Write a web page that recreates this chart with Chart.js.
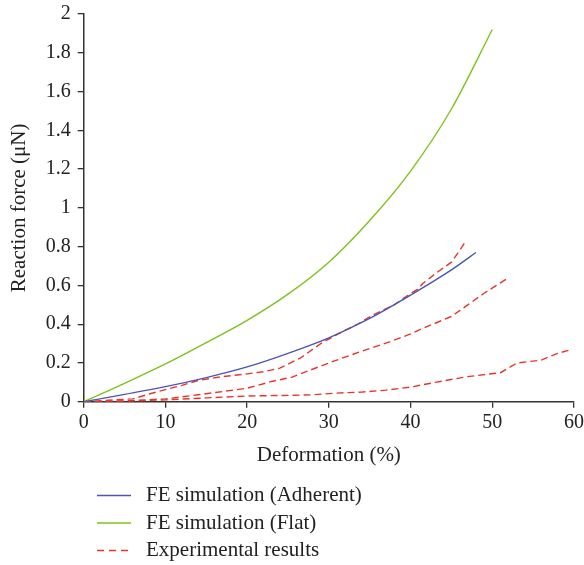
<!DOCTYPE html>
<html>
<head>
<meta charset="utf-8">
<script src="https://cdn.jsdelivr.net/npm/chart.js@4.4.1/dist/chart.umd.min.js"></script>
<style>
  html, body { margin: 0; padding: 0; background: #fff; }
  #wrap { width: 584px; height: 565px; }
</style>
</head>
<body>
<div id="wrap"><canvas id="chart"></canvas></div>
<script>
// FE simulation, adherent
const adherentX = [0, 5, 10, 15, 20, 25, 30, 35, 40, 45, 48];
const adherentY = [0, 0.038, 0.078, 0.125, 0.18, 0.25, 0.33, 0.43, 0.55, 0.68, 0.77];

// FE simulation, flat
const flatX = [0, 5, 10, 15, 20, 25, 30, 35, 40, 45, 50];
const flatY = [0, 0.095, 0.195, 0.305, 0.42, 0.555, 0.72, 0.935, 1.19, 1.51, 1.92];

// experimental curves
const exp1X = [0, 3, 6, 8, 10, 12, 14, 17, 20, 22, 24, 26.5, 29, 30.5, 32, 33.5, 35.5, 38, 39, 41, 41.5, 43, 45, 45.5, 46, 46.7];
const exp1Y = [0, 0.008, 0.015, 0.04, 0.063, 0.085, 0.11, 0.13, 0.144, 0.155, 0.174, 0.225, 0.3, 0.335, 0.37, 0.4, 0.45, 0.5, 0.53, 0.585, 0.61, 0.66, 0.72, 0.75, 0.78, 0.825];
const exp2X = [0, 5, 10, 14, 20, 23, 25.5, 27.5, 30.5, 34.5, 37.5, 40, 41, 43, 45, 47, 49, 50.5, 52];
const exp2Y = [0, 0.005, 0.015, 0.036, 0.07, 0.105, 0.127, 0.16, 0.208, 0.268, 0.31, 0.35, 0.37, 0.405, 0.44, 0.5, 0.56, 0.6, 0.64];
const exp3X = [0, 5, 10, 15, 20, 25, 28, 31, 34, 37, 40, 43, 47, 51, 53, 56, 58, 59.6];
const exp3Y = [0, 0.003, 0.01, 0.02, 0.03, 0.033, 0.036, 0.045, 0.05, 0.06, 0.076, 0.1, 0.13, 0.15, 0.2, 0.215, 0.25, 0.268];

const legendLabels = ['FE simulation (Adherent)', 'FE simulation (Flat)', 'Experimental results'];

const blue = '#4b55b5';
const green = '#7ec31c';
const red = '#e8352b';
const axisColor = '#333333';
const fontFamily = '"Liberation Serif", "Times New Roman", serif';

function pts(xs, ys) {
    return xs.map((x, i) => ({ x: x, y: ys[i] }));
}

// legend drawn by hand so it stacks on the left like the original
const stackedLegend = {
    id: 'stackedLegend',
    afterDraw(chart) {
        const ctx = chart.ctx;
        const items = [
            { color: blue, dash: [] },
            { color: green, dash: [] },
            { color: red, dash: [7, 5] }
        ];
        ctx.save();
        ctx.font = '21px ' + fontFamily;
        ctx.textBaseline = 'middle';
        items.forEach((it, i) => {
            const y = 495.5 + i * 27.5;
            ctx.beginPath();
            ctx.setLineDash(it.dash);
            ctx.strokeStyle = it.color;
            ctx.lineWidth = 1.3;
            ctx.moveTo(97, y);
            ctx.lineTo(131, y);
            ctx.stroke();
            ctx.setLineDash([]);
            ctx.fillStyle = '#222';
            ctx.fillText(legendLabels[i], 146, y);
        });
        ctx.restore();
    }
};

const solid = { pointRadius: 0, borderWidth: 1.4, fill: false, cubicInterpolationMode: 'monotone' };
const dashed = { pointRadius: 0, borderWidth: 1.4, fill: false, borderDash: [7, 4], tension: 0 };

new Chart('chart', {
    type: 'line',
    data: {
        datasets: [
            Object.assign({ label: legendLabels[0], data: pts(adherentX, adherentY), borderColor: blue }, solid),
            Object.assign({ label: legendLabels[1], data: pts(flatX, flatY), borderColor: green }, solid),
            Object.assign({ label: legendLabels[2], data: pts(exp1X, exp1Y), borderColor: red }, dashed),
            Object.assign({ label: legendLabels[2], data: pts(exp2X, exp2Y), borderColor: red }, dashed),
            Object.assign({ label: legendLabels[2], data: pts(exp3X, exp3Y), borderColor: red }, dashed)
        ]
    },
    options: {
        responsive: true,
        maintainAspectRatio: false,
        animation: false,
        layout: { padding: { top: 0, right: 0, left: 4, bottom: 97 } },
        plugins: {
            legend: { display: false },
            tooltip: { enabled: false }
        },
        scales: {
            x: {
                type: 'linear',
                min: 0,
                max: 60,
                afterFit: s => { s.paddingRight = 10; },
                ticks: { stepSize: 10, color: '#222', font: { family: fontFamily, size: 20 }, padding: 3 },
                grid: { display: true, drawOnChartArea: false, drawTicks: true, tickLength: 6, color: axisColor, lineWidth: 1.3 },
                border: { display: true, color: axisColor, width: 1.5 },
                title: { display: true, text: 'Deformation (%)', color: '#222', font: { family: fontFamily, size: 21 }, padding: { top: 5, bottom: 0 } }
            },
            y: {
                min: 0,
                max: 2,
                afterFit: s => { s.paddingTop = 14; },
                ticks: { stepSize: 0.2, color: '#222', font: { family: fontFamily, size: 20 }, padding: 7,
                    callback: v => Math.round(v * 10) / 10 },
                grid: { display: true, drawOnChartArea: false, drawTicks: true, tickLength: 6, color: axisColor, lineWidth: 1.3 },
                border: { display: true, color: axisColor, width: 1.5 },
                title: { display: true, text: 'Reaction force (μN)', color: '#222', font: { family: fontFamily, size: 21 }, padding: { top: 3, bottom: 6.5 } }
            }
        }
    },
    plugins: [stackedLegend]
});
</script>
</body>
</html>
